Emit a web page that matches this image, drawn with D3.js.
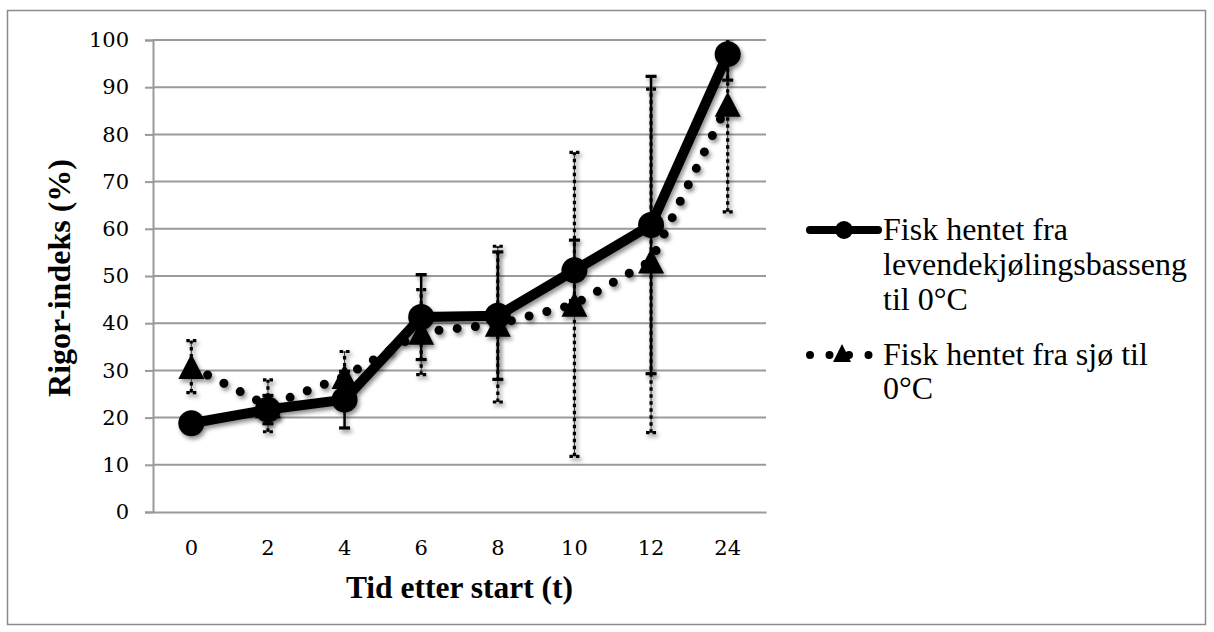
<!DOCTYPE html>
<html>
<head>
<meta charset="utf-8">
<script src="https://cdn.jsdelivr.net/npm/d3@7"></script>
<style>
  body { margin: 0; background: #fff; }
  svg { display: block; }
</style>
</head>
<body>
<script>
// Sampling times (hours after start)
const hours = ["0", "2", "4", "6", "8", "10", "12", "24"];

// Rigor index (%) – fish taken from the live-chilling tank
const poolMeans  = [18.8, 21.7, 23.8, 41.3, 41.6, 51.2, 60.8, 97.0];
const poolErrors = [1.5, 3.0, 6.0, 9.0, 13.5, 6.4, 31.5, 5.5];

// Rigor index (%) – fish taken directly from the sea
const seaMeans  = [30.8, 22.5, 28.7, 38.1, 39.8, 44.0, 53.2, 86.4];
const seaErrors = [5.5, 5.5, 5.3, 9.0, 16.5, 32.2, 36.4, 22.8];

const yTicks = [0, 10, 20, 30, 40, 50, 60, 70, 80, 90, 100];

const poolLegend = ["Fisk hentet fra", "levendekjølingsbasseng", "til 0°C"];
const seaLegend  = ["Fisk hentet fra sjø til", "0°C"];

const yTitle = "Rigor-indeks (%)";
const xTitle = "Tid etter start (t)";

const W = 1214, H = 632;
const plot = { left: 153, right: 766, top: 40, bottom: 512 };

const svg = d3.select("body").append("svg")
  .attr("width", W).attr("height", H);

const defs = svg.append("defs");
const shadow = defs.append("filter").attr("id", "shadow")
  .attr("x", "-20%").attr("y", "-20%").attr("width", "140%").attr("height", "140%");
shadow.append("feGaussianBlur").attr("in", "SourceAlpha").attr("stdDeviation", 2).attr("result", "b");
shadow.append("feOffset").attr("in", "b").attr("dx", 2).attr("dy", 3).attr("result", "o");
shadow.append("feComponentTransfer").attr("in", "o").attr("result", "s")
  .append("feFuncA").attr("type", "linear").attr("slope", 0.45);
const merge = shadow.append("feMerge");
merge.append("feMergeNode").attr("in", "s");
merge.append("feMergeNode").attr("in", "SourceGraphic");

defs.append("clipPath").attr("id", "plotClip")
  .append("rect")
  .attr("x", plot.left - 20).attr("y", plot.top)
  .attr("width", plot.right - plot.left + 40)
  .attr("height", plot.bottom - plot.top + 20);

// Outer frame
svg.append("rect")
  .attr("x", 7.5).attr("y", 10.5).attr("width", 1198).attr("height", 614)
  .attr("fill", "none").attr("stroke", "#8c8c8c").attr("stroke-width", 1.5);

const x = d3.scaleBand().domain(hours).range([plot.left, plot.right]).padding(0);
const y = d3.scaleLinear().domain([0, 100]).range([plot.bottom, plot.top]);
const cx = h => x(h) + x.bandwidth() / 2;

// Horizontal gridlines
svg.append("g").selectAll("line").data(yTicks.filter(t => t > 0)).join("line")
  .attr("x1", plot.left).attr("x2", plot.right)
  .attr("y1", d => y(d)).attr("y2", d => y(d))
  .attr("stroke", "#9a9a9a").attr("stroke-width", 2);

// Y axis
const yAxis = svg.append("g").attr("transform", `translate(${plot.left},0)`)
  .call(d3.axisLeft(y).tickValues(yTicks).tickSize(8).tickPadding(16).tickFormat(d3.format("d")));
yAxis.select(".domain").attr("stroke", "#9a9a9a").attr("stroke-width", 2);
yAxis.selectAll(".tick line").attr("stroke", "#9a9a9a").attr("stroke-width", 2);
yAxis.selectAll("text")
  .attr("font-family", "'DejaVu Serif', serif").attr("font-size", 21).attr("fill", "#000");

// X axis
const xAxis = svg.append("g").attr("transform", `translate(0,${plot.bottom})`)
  .call(d3.axisBottom(x).tickSize(0).tickPadding(28));
xAxis.select(".domain").attr("stroke", "#9a9a9a").attr("stroke-width", 2);
xAxis.selectAll("text")
  .attr("font-family", "'DejaVu Serif', serif").attr("font-size", 21).attr("fill", "#000");

// Axis titles
svg.append("text")
  .attr("transform", `translate(70,${(plot.top + plot.bottom) / 2 + 2}) rotate(-90)`)
  .attr("text-anchor", "middle")
  .attr("font-family", "'Liberation Serif', 'Times New Roman', serif")
  .attr("font-weight", "bold").attr("font-size", 32)
  .text(yTitle);
svg.append("text")
  .attr("x", (plot.left + plot.right) / 2).attr("y", 598)
  .attr("text-anchor", "middle")
  .attr("font-family", "'Liberation Serif', 'Times New Roman', serif")
  .attr("font-weight", "bold").attr("font-size", 31.5)
  .text(xTitle);

const trianglePath = (w, h) => `M0,${-h / 2}L${w / 2},${h / 2}L${-w / 2},${h / 2}Z`;

const chart = svg.append("g").attr("clip-path", "url(#plotClip)");

const sea = hours.map((h, i) => ({ h, v: seaMeans[i], e: seaErrors[i] }));
const pool = hours.map((h, i) => ({ h, v: poolMeans[i], e: poolErrors[i] }));

// ---- Sea series: dotted line, triangles, dashed error bars ----
const seaG = chart.append("g").attr("filter", "url(#shadow)");
const seaBars = seaG.append("g").selectAll("g").data(sea).join("g");
seaBars.append("line")
  .attr("x1", d => cx(d.h)).attr("x2", d => cx(d.h))
  .attr("y1", d => y(d.v - d.e)).attr("y2", d => y(d.v + d.e))
  .attr("stroke", "#333").attr("stroke-width", 1);
seaBars.append("line")
  .attr("x1", d => cx(d.h)).attr("x2", d => cx(d.h))
  .attr("y1", d => y(d.v - d.e)).attr("y2", d => y(d.v + d.e))
  .attr("stroke", "#000").attr("stroke-width", 3.2).attr("stroke-dasharray", "3.5 3.5");
[-1, 1].forEach(s => {
  seaBars.append("line")
    .attr("x1", d => cx(d.h) - 5).attr("x2", d => cx(d.h) + 5)
    .attr("y1", d => y(d.v + s * d.e)).attr("y2", d => y(d.v + s * d.e))
    .attr("stroke", "#000").attr("stroke-width", 3.2).attr("stroke-dasharray", "3.5 3");
});

seaG.append("path").datum(sea)
  .attr("d", d3.line().x(d => cx(d.h)).y(d => y(d.v)))
  .attr("fill", "none").attr("stroke", "#000").attr("stroke-width", 9)
  .attr("stroke-linecap", "round").attr("stroke-dasharray", "0 18.3");
seaG.append("g").selectAll("path").data(sea).join("path")
  .attr("transform", d => `translate(${cx(d.h)},${y(d.v)})`)
  .attr("d", trianglePath(26, 25)).attr("fill", "#000");

// ---- Tank series: solid line, circles, solid error bars ----
const poolG = chart.append("g").attr("filter", "url(#shadow)");
const poolBars = poolG.append("g").selectAll("g").data(pool).join("g");
poolBars.append("line")
  .attr("x1", d => cx(d.h)).attr("x2", d => cx(d.h))
  .attr("y1", d => y(d.v - d.e)).attr("y2", d => y(d.v + d.e))
  .attr("stroke", "#000").attr("stroke-width", 2.5);
[-1, 1].forEach(s => {
  poolBars.append("line")
    .attr("x1", d => cx(d.h) - 5.5).attr("x2", d => cx(d.h) + 5.5)
    .attr("y1", d => y(d.v + s * d.e)).attr("y2", d => y(d.v + s * d.e))
    .attr("stroke", "#000").attr("stroke-width", 3.2);
});
poolG.append("path").datum(pool)
  .attr("d", d3.line().x(d => cx(d.h)).y(d => y(d.v)))
  .attr("fill", "none").attr("stroke", "#000").attr("stroke-width", 10)
  .attr("stroke-linejoin", "round");
poolG.append("g").selectAll("circle").data(pool).join("circle")
  .attr("cx", d => cx(d.h)).attr("cy", d => y(d.v)).attr("r", 13).attr("fill", "#000");

// ---- Legend ----
const legendFont = "'Liberation Serif', 'Times New Roman', serif";
const leg = svg.append("g");
const lx0 = 806, lx1 = 882, ltx = 883;

const l1 = leg.append("g");
l1.append("line").attr("x1", lx0 + 4).attr("x2", lx1 - 4).attr("y1", 230).attr("y2", 230)
  .attr("stroke", "#000").attr("stroke-width", 8).attr("stroke-linecap", "round");
l1.append("circle").attr("cx", (lx0 + lx1) / 2).attr("cy", 230).attr("r", 9).attr("fill", "#000");
l1.append("text").attr("font-family", legendFont).attr("font-size", 32)
  .selectAll("tspan").data(poolLegend).join("tspan")
  .attr("x", ltx).attr("y", (d, i) => 240 + i * 35).text(d => d);

const l2 = leg.append("g");
l2.append("line").attr("x1", lx0 + 4).attr("x2", lx1 - 4).attr("y1", 355).attr("y2", 355)
  .attr("stroke", "#000").attr("stroke-width", 8).attr("stroke-linecap", "round")
  .attr("stroke-dasharray", "0 19.5");
l2.append("path").attr("transform", `translate(${(lx0 + lx1) / 2 - 2},353)`)
  .attr("d", trianglePath(18, 18)).attr("fill", "#000");
l2.append("text").attr("font-family", legendFont).attr("font-size", 32)
  .selectAll("tspan").data(seaLegend).join("tspan")
  .attr("x", ltx).attr("y", (d, i) => 365 + i * 34).text(d => d);
</script>
</body>
</html>
